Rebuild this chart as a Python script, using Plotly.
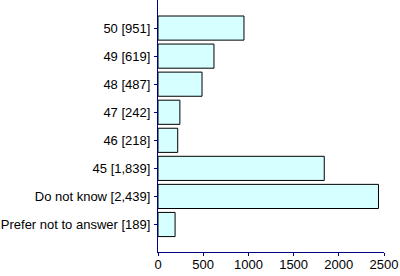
import plotly.graph_objects as go

categories = ["50 [951]", "49 [619]", "48 [487]", "47 [242]", "46 [218]",
              "45 [1,839]", "Do not know [2,439]", "Prefer not to answer [189]"]
values = [951, 619, 487, 242, 218, 1839, 2439, 189]
x_ticks = [0, 500, 1000, 1500, 2000, 2500]

fig = go.Figure(go.Bar(
    y=categories, x=values, orientation="h",
    marker=dict(color="#d6ffff", line=dict(color="black", width=1)),
    width=0.86,
))
fig.update_layout(
    width=400, height=276,
    margin=dict(l=158, r=16, t=0, b=24),
    paper_bgcolor="white", plot_bgcolor="white",
    font=dict(family="Liberation Sans, Arial, sans-serif", size=13, color="black"),
    showlegend=False,
    bargap=0.14,
)
fig.update_yaxes(
    categoryorder="array", categoryarray=categories,
    range=[7.98, -1], autorange=False,
    showline=True, linecolor="#000080", linewidth=1,
    ticks="outside", ticklen=3, tickcolor="#000080",
    showgrid=False, zeroline=False, ticklabelstandoff=1,
)
fig.update_xaxes(
    range=[0, 2500], tickvals=x_ticks,
    showline=True, linecolor="#000080", linewidth=1,
    ticks="outside", ticklen=3, tickcolor="#000080",
    showgrid=False, zeroline=False, ticklabelstandoff=-3,
)
fig.write_html("out.html")
